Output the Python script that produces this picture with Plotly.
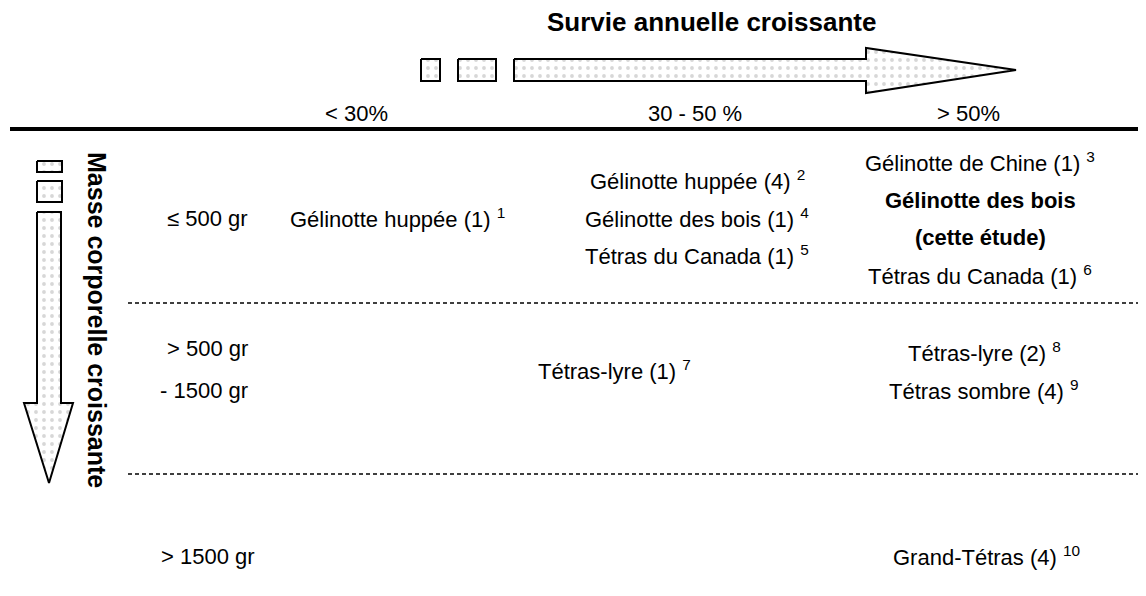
import plotly.graph_objects as go

# ---- content ----
title_x = "Survie annuelle croissante"
title_y = "Masse corporelle croissante"
survival_classes = ["< 30%", "30 - 50 %", "> 50%"]
mass_classes = ["≤ 500 gr", ["> 500 gr", "- 1500 gr"], "> 1500 gr"]
cell_low_small = ["Gélinotte huppée (1) <sup>1</sup>"]
cell_mid_small = ["Gélinotte huppée (4) <sup>2</sup>", "Gélinotte des bois (1) <sup>4</sup>",
                  "Tétras du Canada (1) <sup>5</sup>"]
cell_high_small = ["Gélinotte de Chine (1) <sup>3</sup>", "<b>Gélinotte des bois</b>",
                   "<b>(cette étude)</b>", "Tétras du Canada (1) <sup>6</sup>"]
cell_mid_medium = ["Tétras-lyre (1) <sup>7</sup>"]
cell_high_medium = ["Tétras-lyre (2) <sup>8</sup>", "Tétras sombre (4) <sup>9</sup>"]
cell_high_large = ["Grand-Tétras (4) <sup>10</sup>"]

W, H = 1146, 596
OFF = 8  # page margin of the html body
FONT = "Liberation Sans"
FS = 22

fig = go.Figure()

def poly(xs, ys):
    fig.add_trace(go.Scatter(
        x=xs + [xs[0]], y=ys + [ys[0]], mode="lines", fill="toself",
        line=dict(color="black", width=2),
        fillcolor="white",
        fillpattern=dict(shape=".", fgcolor="#b0b0b0", bgcolor="white", size=8, solidity=0.18),
        hoverinfo="skip", showlegend=False))

# horizontal arrow (survival)
poly([421, 440, 440, 421], [59, 59, 81, 81])
poly([458, 496, 496, 458], [59, 59, 81, 81])
poly([514, 866, 866, 1016, 866, 866, 514], [59, 59, 48, 70, 93, 81, 81])
# vertical arrow (mass)
poly([37, 62, 62, 37], [161, 161, 172, 172])
poly([37, 62, 62, 37], [181, 181, 202, 202])
poly([37, 61, 61, 73, 49, 24, 37], [212, 212, 403, 403, 483, 403, 403])

shapes = [
    dict(type="line", x0=10, x1=W + 10, y0=129, y1=129, line=dict(color="black", width=4)),
    dict(type="line", x0=128, x1=W + 10, y0=303, y1=303, line=dict(color="black", width=1.6, dash="4px,3px")),
    dict(type="line", x0=128, x1=W + 10, y0=474, y1=474, line=dict(color="black", width=1.6, dash="4px,3px")),
]

ann = []
def txt(x, y, s, size=FS, bold=False, angle=0, align="center", xanchor="center"):
    ann.append(dict(x=x, y=y, xref="x", yref="y", text=(f"<b>{s}</b>" if bold else s),
                    showarrow=False, textangle=angle, align=align, xanchor=xanchor, yanchor="middle",
                    font=dict(family=FONT, size=size, color="black")))

txt(711, 22, title_x, size=26, bold=True)
txt(97, 320, title_y, size=25, bold=True, angle=90)

hx = [356, 695, 968]
for s, x in zip(survival_classes, hx):
    txt(x, 113, s)

txt(207, 218, mass_classes[0])
for y, s in zip([348, 390], mass_classes[1]):
    txt(250, y, s, align="right", xanchor="right")
txt(208, 556, mass_classes[2])

def column(x, ys, items):
    for y, s in zip(ys, items):
        txt(x, y, s)

column(397, [218], cell_low_small)
column(697, [180, 218, 255], cell_mid_small)
column(980, [162, 200, 237, 275], cell_high_small)
column(614, [370], cell_mid_medium)
column(984, [352, 390], cell_high_medium)
column(986, [556], cell_high_large)

fig.update_layout(
    width=W - OFF, height=H - OFF, margin=dict(l=0, r=0, t=0, b=0),
    paper_bgcolor="white", plot_bgcolor="white",
    xaxis=dict(range=[OFF, W], visible=False, fixedrange=True),
    yaxis=dict(range=[H, OFF], visible=False, fixedrange=True),
    shapes=shapes, annotations=ann, showlegend=False,
)
fig.write_html("out.html", config={"displayModeBar": False})
